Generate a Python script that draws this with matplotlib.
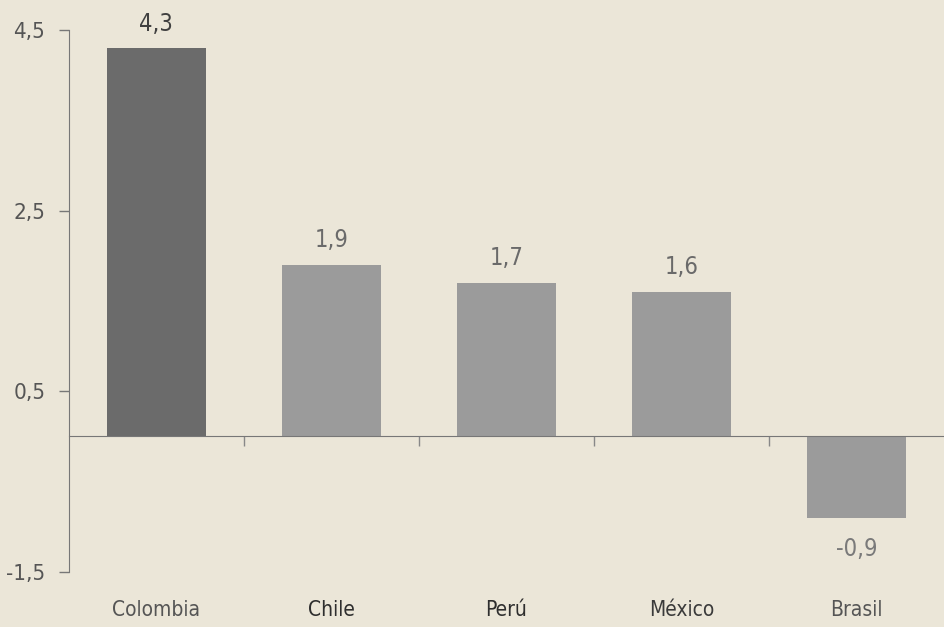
import matplotlib.pyplot as plt
from matplotlib.transforms import blended_transform_factory

# Datos
paises = ['Colombia', 'Chile', 'Perú', 'México', 'Brasil']
valores = [4.3, 1.9, 1.7, 1.6, -0.9]
etiquetas = ['4,3', '1,9', '1,7', '1,6', '-0,9']
yticks = [4.5, 2.5, 0.5, -1.5]
ytick_labels = ['4,5', '2,5', '0,5', '-1,5']

fondo = '#ebe6d8'
colores = ['#6b6b6b', '#9b9b9b', '#9b9b9b', '#9b9b9b', '#9b9b9b']
color_pais = ['#555555', '#2e2e2e', '#2e2e2e', '#3a3a3a', '#555555']
color_valor = ['#404040', '#6a6a6a', '#6a6a6a', '#6a6a6a', '#7a7a7a']

plt.rcParams['font.family'] = ['DejaVu Sans']
plt.rcParams['font.stretch'] = 'condensed'

fig = plt.figure(figsize=(9.44, 6.27), dpi=100, facecolor=fondo)
ax = fig.add_axes([0.073, 0.088, 0.927, 0.864])
ax.set_facecolor(fondo)

x = list(range(len(paises)))
bars = ax.bar(x, valores, width=0.57, color=colores, zorder=2)

# etiquetas de valor
for b, v, t, c in zip(bars, valores, etiquetas, color_valor):
    cx = b.get_x() + b.get_width() / 2
    if v >= 0:
        ax.annotate(t, (cx, v), xytext=(0, 9), textcoords='offset points',
                    ha='center', va='bottom', fontsize=17, color=c)
    else:
        ax.annotate(t, (cx, v), xytext=(0, -14), textcoords='offset points',
                    ha='center', va='top', fontsize=17, color=c)

ax.set_xlim(-0.5, 4.5)
ax.set_ylim(-1.5, 4.5)
ax.set_yticks(yticks)
ax.set_yticklabels(ytick_labels, fontsize=16, color='#555555')
ax.tick_params(axis='y', length=7, width=1, color='#777777', pad=10)

# eje x en cero con marcas entre categorías
ax.spines['bottom'].set_position(('data', 0))
ax.spines['bottom'].set_color('#777777')
ax.spines['left'].set_color('#777777')
ax.spines['top'].set_visible(False)
ax.spines['right'].set_visible(False)
ax.set_xticks([0.5, 1.5, 2.5, 3.5])
ax.set_xticklabels([])
ax.tick_params(axis='x', length=7, width=1, color='#888888', direction='out')

trans = blended_transform_factory(ax.transData, ax.transAxes)
for xi, p, c in zip(x, paises, color_pais):
    ax.text(xi, -0.07, p, transform=trans, ha='center', va='center',
            fontsize=15, color=c)

fig.savefig('out.png', dpi=100, facecolor=fondo)
